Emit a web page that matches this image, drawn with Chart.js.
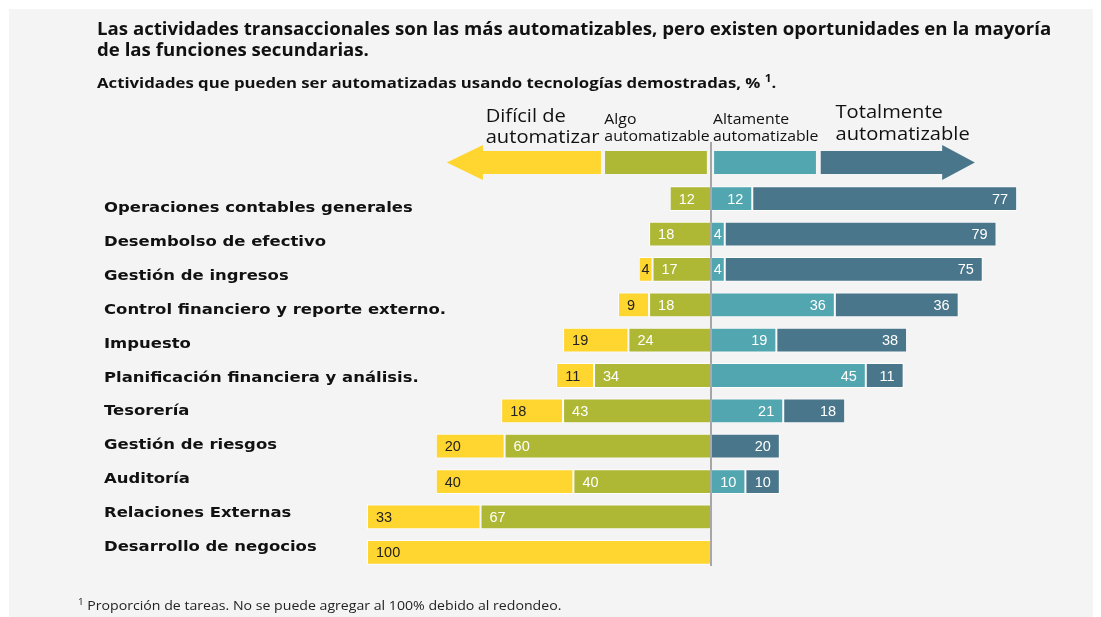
<!DOCTYPE html>
<html>
<head>
<meta charset="utf-8">
<script src="https://cdn.jsdelivr.net/npm/chart.js@4"></script>
<style>
  html, body { margin: 0; padding: 0; background: #fff; }
  #wrap { position: relative; width: 1101px; height: 617px; overflow: hidden; }
  #panel { position: absolute; left: 9px; top: 9px; right: 8px; bottom: 0; background: #f4f4f4; }
  canvas { position: absolute; left: 0; top: 0; }
  .txt { position: absolute; font-family: "Open Sans", sans-serif; color: #111; white-space: nowrap; transform-origin: left top; }
  #title { left: 97px; top: 18px; font-size: 17px; font-weight: 700; line-height: 21px; transform: scaleX(1.096); }
  #subtitle { left: 97px; top: 73px; font-size: 14.5px; font-weight: 700; transform: scaleX(1.155); }
  #note { left: 78px; top: 597px; font-size: 12.5px; color: #222; transform: scaleX(1.13); }
  sup { font-size: 70%; line-height: 0; }
</style>
</head>
<body>
<div id="wrap">
  <div id="panel"></div>
  <canvas id="chart" width="1101" height="617"></canvas>
  <div class="txt" id="title">Las actividades transaccionales son las más automatizables, pero existen oportunidades en la mayoría<br>de las funciones secundarias.</div>
  <div class="txt" id="subtitle">Actividades que pueden ser automatizadas usando tecnologías demostradas, % <sup>1</sup>.</div>
  <div class="txt" id="note"><sup>1</sup> Proporción de tareas. No se puede agregar al 100% debido al redondeo.</div>
</div>
<script>
  const categories = [
    "Operaciones contables generales",
    "Desembolso de efectivo",
    "Gestión de ingresos",
    "Control financiero y reporte externo.",
    "Impuesto",
    "Planificación financiera y análisis.",
    "Tesorería",
    "Gestión de riesgos",
    "Auditoría",
    "Relaciones Externas",
    "Desarrollo de negocios",
  ];

  // % of activities per level (null = no segment)
  const dificil = [null, null, 4, 9, 19, 11, 18, 20, 40, 33, 100];
  const algo = [12, 18, 17, 18, 24, 34, 43, 60, 40, 67, null];
  const altamente = [12, 4, 4, 36, 19, 45, 21, null, 10, null, null];
  const totalmente = [77, 79, 75, 36, 38, 11, 18, 20, 10, null, null];

  const colors = {
    dificil: "#FFD530",
    algo: "#AEB835",
    altamente: "#51A6B0",
    totalmente: "#4A768B",
  };

  const neg = (arr) => arr.map((v) => (v == null ? null : -v));

  const makeSet = (label, data, color, textColor) => ({
    label: label,
    data: data,
    backgroundColor: color,
    borderColor: "rgba(255,255,255,0.85)",
    borderWidth: 1,
    borderSkipped: false,
    labelColor: textColor,
  });

  // the source picture is a bit wider than normal type, so stretch text
  function wideText(ctx, txt, x, y, sx) {
    ctx.save();
    ctx.translate(x, y);
    ctx.scale(sx, 1);
    ctx.fillText(txt, 0, 0);
    ctx.restore();
  }

  // category labels on the left, left aligned
  const categoryLabels = {
    id: "categoryLabels",
    afterDraw(chart) {
      const y = chart.scales.y;
      const ctx = chart.ctx;
      const top = y.getPixelForValue(0) + 9.5;
      const bottom = y.getPixelForValue(categories.length - 1) - 5;
      const step = (bottom - top) / (categories.length - 1);
      ctx.save();
      ctx.font = "bold 14.5px 'DejaVu Sans'";
      ctx.fillStyle = "#111";
      ctx.textAlign = "left";
      ctx.textBaseline = "middle";
      categories.forEach((c, i) => {
        wideText(ctx, c, 104, top + i * step, 1.135);
      });
      ctx.restore();
    },
  };

  // numbers inside the bars
  const valueLabels = {
    id: "valueLabels",
    afterDatasetsDraw(chart) {
      const ctx = chart.ctx;
      ctx.save();
      ctx.font = "14.5px 'Liberation Sans'";
      ctx.textBaseline = "middle";
      chart.data.datasets.forEach((ds, di) => {
        const meta = chart.getDatasetMeta(di);
        meta.data.forEach((bar, i) => {
          const v = ds.data[i];
          if (v == null) return;
          const txt = String(Math.abs(v));
          const left = Math.min(bar.x, bar.base);
          const right = Math.max(bar.x, bar.base);
          ctx.fillStyle = ds.labelColor;
          if (right - left < 30) {
            ctx.textAlign = "center";
            ctx.fillText(txt, (left + right) / 2, bar.y + 1);
          } else if (v < 0) {
            ctx.textAlign = "left";
            ctx.fillText(txt, left + 9, bar.y + 1);
          } else {
            ctx.textAlign = "right";
            ctx.fillText(txt, right - 9, bar.y + 1);
          }
        });
      });
      ctx.restore();
    },
  };

  // arrows + header texts + zero line
  const header = {
    id: "header",
    afterDraw(chart) {
      const x = chart.scales.x;
      const ctx = chart.ctx;
      const px = (v) => x.getPixelForValue(v);
      const bTop = 151, bBot = 174, hTop = 145, hBot = 180, mid = 162.5;
      ctx.save();

      ctx.fillStyle = colors.dificil;
      ctx.beginPath();
      ctx.moveTo(px(-76.8), mid);
      ctx.lineTo(px(-66.3), hTop);
      ctx.lineTo(px(-66.3), bTop);
      ctx.lineTo(px(-32), bTop);
      ctx.lineTo(px(-32), bBot);
      ctx.lineTo(px(-66.3), bBot);
      ctx.lineTo(px(-66.3), hBot);
      ctx.closePath();
      ctx.fill();

      ctx.fillStyle = colors.algo;
      ctx.fillRect(px(-30.8), bTop, px(-1.2) - px(-30.8), bBot - bTop);

      ctx.fillStyle = colors.altamente;
      ctx.fillRect(px(0.9), bTop, px(30.5) - px(0.9), bBot - bTop);

      ctx.fillStyle = colors.totalmente;
      ctx.beginPath();
      ctx.moveTo(px(31.9), bTop);
      ctx.lineTo(px(67.2), bTop);
      ctx.lineTo(px(67.2), hTop);
      ctx.lineTo(px(76.7), mid);
      ctx.lineTo(px(67.2), hBot);
      ctx.lineTo(px(67.2), bBot);
      ctx.lineTo(px(31.9), bBot);
      ctx.closePath();
      ctx.fill();

      ctx.fillStyle = "#111";
      ctx.textAlign = "left";
      ctx.textBaseline = "middle";
      ctx.font = "17.5px 'Open Sans'";
      wideText(ctx, "Difícil de", px(-65.5), 117, 1.15);
      wideText(ctx, "automatizar", px(-65.5), 138, 1.15);
      wideText(ctx, "Totalmente", px(36.2), 113, 1.15);
      wideText(ctx, "automatizable", px(36.2), 135, 1.15);
      ctx.font = "14.5px 'Open Sans'";
      wideText(ctx, "Algo", px(-31), 120, 1.09);
      wideText(ctx, "automatizable", px(-31), 137, 1.09);
      wideText(ctx, "Altamente", px(0.6), 120, 1.09);
      wideText(ctx, "automatizable", px(0.6), 137, 1.09);

      // zero line
      const x0 = px(0);
      ctx.strokeStyle = "#8c8c8c";
      ctx.lineWidth = 1.5;
      ctx.beginPath();
      ctx.moveTo(x0, 142);
      ctx.lineTo(x0, chart.chartArea.bottom - 4);
      ctx.stroke();
      ctx.restore();
    },
  };

  const ctx = document.getElementById("chart").getContext("2d");
  new Chart(ctx, {
    type: "bar",
    data: {
      labels: categories,
      datasets: [
        makeSet("Algo automatizable", neg(algo), colors.algo, "#fff"),
        makeSet("Difícil de automatizar", neg(dificil), colors.dificil, "#222"),
        makeSet("Altamente automatizable", altamente, colors.altamente, "#fff"),
        makeSet("Totalmente automatizable", totalmente, colors.totalmente, "#fff"),
      ],
    },
    options: {
      indexAxis: "y",
      responsive: false,
      animation: false,
      barPercentage: 1,
      categoryPercentage: 0.7,
      layout: {
        padding: { left: 367, right: 46, top: 181, bottom: 47 },
      },
      plugins: {
        legend: { display: false },
        tooltip: { enabled: false },
      },
      scales: {
        x: {
          display: false,
          stacked: true,
          min: -100,
          max: 100,
        },
        y: {
          display: false,
          stacked: true,
        },
      },
    },
    plugins: [categoryLabels, valueLabels, header],
  });
</script>
</body>
</html>
